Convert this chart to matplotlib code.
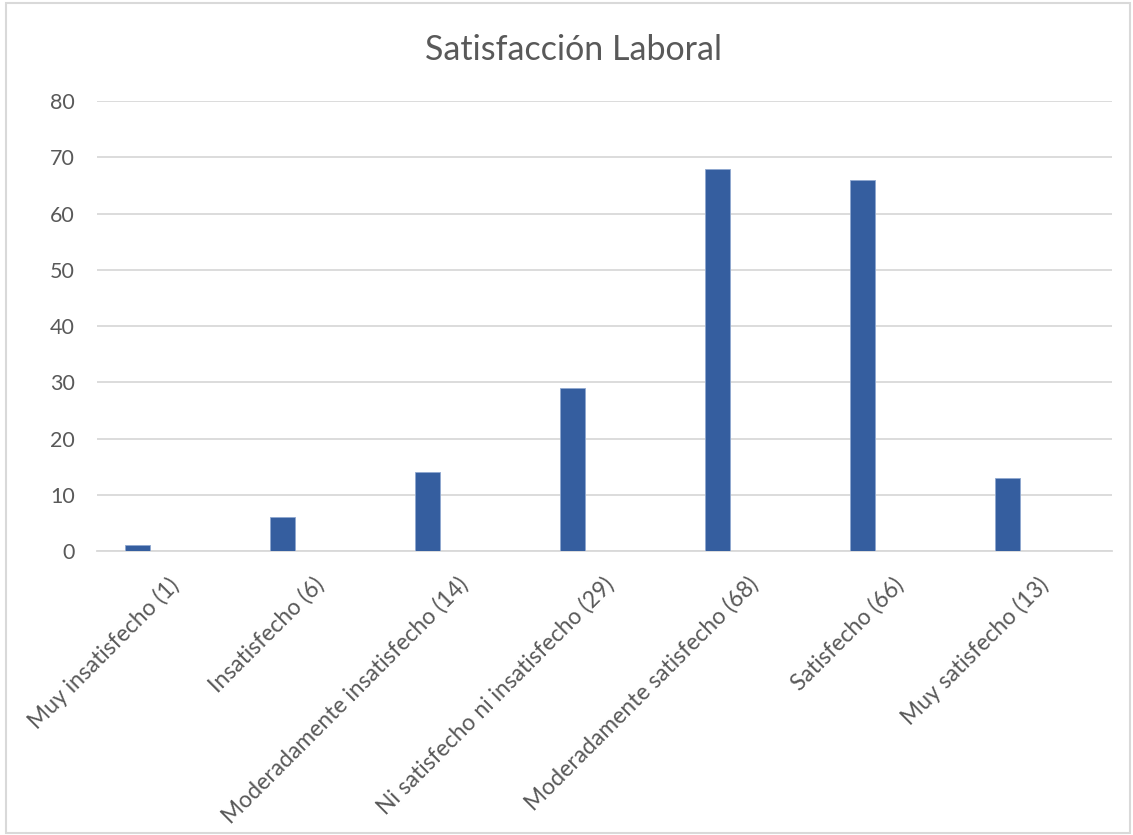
import matplotlib.pyplot as plt
import matplotlib.transforms as mtransforms
from matplotlib.patches import Rectangle
import numpy as np

plt.rcParams['font.family'] = ['Lato', 'DejaVu Sans']

# datos
categorias = ['Muy insatisfecho (1)', 'Insatisfecho (6)',
              'Moderadamente insatisfecho (14)',
              'Ni satisfecho ni insatisfecho (29)',
              'Moderadamente satisfecho (68)', 'Satisfecho (66)',
              'Muy satisfecho (13)']
valores = [1, 6, 14, 29, 68, 66, 13]
yticks = [0, 10, 20, 30, 40, 50, 60, 70, 80]

gris_texto = '#595959'
gris_linea = '#D9D9D9'
azul = '#355E9F'

fig = plt.figure(figsize=(11.33, 8.35), dpi=100)
ax = fig.add_axes([0.0856, 0.3401, 0.8959, 0.5389])

x = np.arange(len(categorias))
ax.bar(x - 0.221, valores, width=0.172, color=azul,
       edgecolor='#8FA8D0', linewidth=0.6, zorder=3)

ax.set_xlim(-0.5, len(categorias) - 0.5)
ax.set_ylim(0, 80)
ax.set_yticks(yticks)
ax.yaxis.grid(True, color=gris_linea, linewidth=1.3, zorder=0)
for s in ['top', 'right', 'left']:
    ax.spines[s].set_visible(False)
ax.spines['bottom'].set_color(gris_linea)
ax.spines['bottom'].set_linewidth(1.3)
ax.tick_params(axis='y', length=0, pad=16, labelsize=15.5, labelcolor=gris_texto)
ax.tick_params(axis='x', length=0, pad=4, labelsize=16.5, labelcolor=gris_texto)

ax.set_xticks(x)
ax.set_xticklabels(categorias, rotation=45, ha='right', rotation_mode='anchor')
off = mtransforms.ScaledTranslation(-0.02, -0.17, fig.dpi_scale_trans)
for lab in ax.get_xticklabels():
    lab.set_transform(lab.get_transform() + off)

fig.text(0.5065, 0.94, 'Satisfacción Laboral', ha='center', va='center',
         fontsize=24.5, color=gris_texto)

# marco del grafico
fig.patches.append(Rectangle((0.0053, 0.002), 0.992, 0.994, transform=fig.transFigure,
                             fill=False, edgecolor='#D9D9D9', linewidth=1.5))

fig.savefig('out.png', dpi=100)
